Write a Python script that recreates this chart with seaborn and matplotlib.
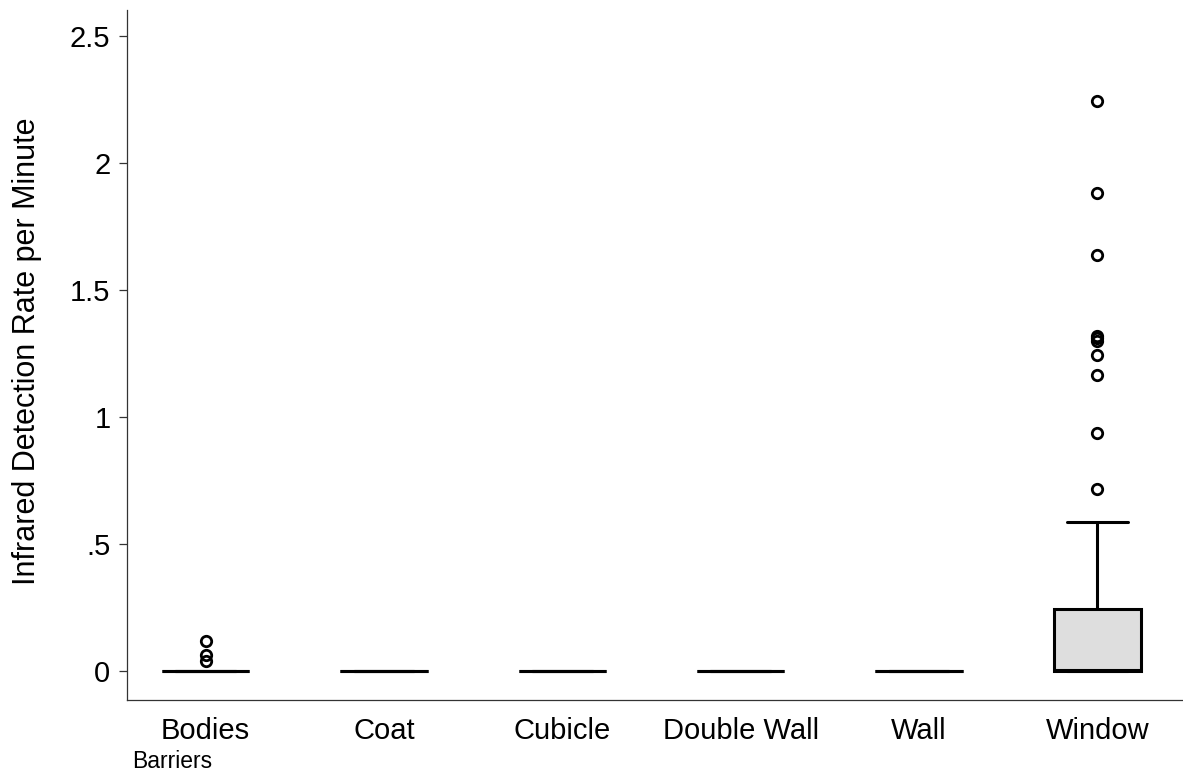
import pandas as pd
import matplotlib
matplotlib.use("Agg")
import matplotlib.pyplot as plt
import seaborn as sns

# Barrier categories (x axis order)
barriers = ["Bodies", "Coat", "Cubicle", "Double Wall", "Wall", "Window"]

# Detection rates per minute
bodies = [0, 0, 0, 0, 0, 0, 0, 0, 0, 0, 0, 0, 0, 0, 0, 0, 0, 0, 0, 0,
          0.04, 0.063, 0.118]
coat = [0, 0, 0, 0, 0, 0, 0, 0, 0, 0, 0, 0, 0, 0, 0, 0, 0, 0, 0, 0]
cubicle = [0, 0, 0, 0, 0, 0, 0, 0, 0, 0, 0, 0, 0, 0, 0, 0, 0, 0, 0, 0]
double_wall = [0, 0, 0, 0, 0, 0, 0, 0, 0, 0, 0, 0, 0, 0, 0, 0, 0, 0, 0, 0]
wall = [0, 0, 0, 0, 0, 0, 0, 0, 0, 0, 0, 0, 0, 0, 0, 0, 0, 0, 0, 0]
window = [0, 0, 0, 0, 0, 0, 0, 0, 0, 0, 0, 0, 0, 0, 0, 0, 0, 0,
          0.001, 0.002, 0.003, 0.004, 0.005,
          0.02, 0.04, 0.06, 0.08, 0.10, 0.12, 0.15, 0.18, 0.20, 0.22, 0.244,
          0.587,
          0.717, 0.937, 1.165, 1.244, 1.30, 1.31, 1.32, 1.638, 1.882, 2.244]

yticks = [0, 0.5, 1, 1.5, 2, 2.5]
ytick_labels = ["0", ".5", "1", "1.5", "2", "2.5"]

groups = [bodies, coat, cubicle, double_wall, wall, window]
df = pd.DataFrame({
    "barrier": [b for b, vals in zip(barriers, groups) for _ in vals],
    "rate": [v for vals in groups for v in vals],
})

sns.set_style("white")
plt.rcParams["font.family"] = ["Liberation Sans", "DejaVu Sans"]
plt.rcParams["text.color"] = "black"
plt.rcParams["axes.labelcolor"] = "black"
plt.rcParams["xtick.color"] = "black"
plt.rcParams["ytick.color"] = "black"

fig = plt.figure(figsize=(11.83, 7.76), dpi=100)
ax = fig.add_axes([0.1074, 0.0979, 0.8926, 0.8892])

sns.boxplot(
    data=df, x="barrier", y="rate", order=barriers, ax=ax,
    color="#dedede", saturation=1, linecolor="black", linewidth=2.2,
    width=0.49, capwidths=0.34,
    flierprops=dict(marker="o", markersize=7.5, markerfacecolor="none",
                    markeredgecolor="black", markeredgewidth=2),
)

ax.set_xlim(-0.44, 5.48)
ax.set_ylim(-0.114, 2.602)
ax.set_yticks(yticks)
ax.set_yticklabels(ytick_labels)

for side in ["top", "right"]:
    ax.spines[side].set_visible(False)
for side in ["left", "bottom"]:
    ax.spines[side].set_color("#333333")
    ax.spines[side].set_linewidth(0.9)

ax.tick_params(axis="y", length=6, width=0.9, color="#333333", pad=6,
               labelsize=21, left=True)
ax.tick_params(axis="x", length=0, pad=12, labelsize=21)

ax.set_ylabel("Infrared Detection Rate per Minute", fontsize=22)
ax.yaxis.set_label_coords(-0.081, 0.505)
ax.set_xlabel("Barriers", fontsize=16.5, loc="left")
ax.xaxis.set_label_coords(0.005, -0.072)

fig.savefig("out.png", dpi=100)
